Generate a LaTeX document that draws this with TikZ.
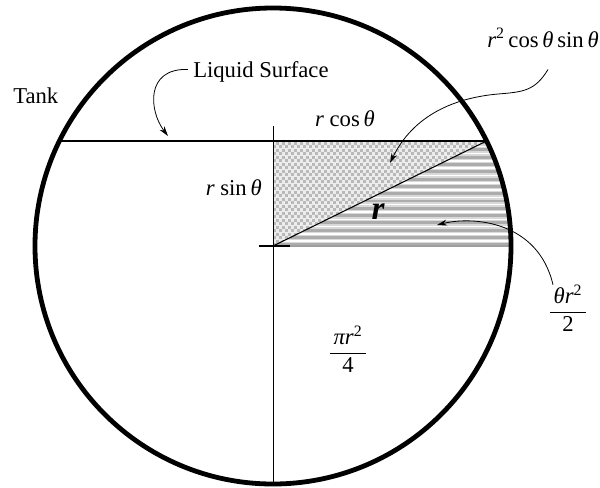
\documentclass[tikz,border=0pt]{standalone}
\usepackage{fontspec}
\setmainfont{Liberation Serif}
\usetikzlibrary{arrows.meta}

\begin{document}
\begin{tikzpicture}[x=0.75pt,y=0.75pt,
  lbl/.style={font=\fontsize{17}{20}\selectfont,inner sep=0pt},
  conn/.style={line width=0.6pt,-{Stealth[length=7.5pt,width=4.5pt]}}]
\useasboundingbox (-273,-241) rectangle (327,246);
\pgfmathsetmacro\th{asin(105/238)}
\pgfmathsetmacro\xs{238*cos(\th)}
% striped sector
\begin{scope}
\clip (0,0) -- (238,0) arc[start angle=0,end angle=\th,radius=238] -- cycle;
\fill[gray!30] (0,0) rectangle (240,110);
\foreach \k in {0,...,15}
  \draw[gray!65,line width=2.2pt] (0,{7.3*\k+1.2}) -- (240,{7.3*\k+1.2});
\foreach \k in {0,...,15}
  \draw[white,line width=1.1pt] (0,{7.3*\k+4.8}) -- (240,{7.3*\k+4.8});
\end{scope}
\draw[gray!75,line width=2pt] (17,0) -- (238,0);
% dotted triangle
\begin{scope}
\clip (0,0) -- (0,105) -- (\xs,105) -- cycle;
\fill[gray!15] (0,0) rectangle (\xs,105);
\foreach \j in {0,...,30}
  \foreach \i in {0,...,36}
    \fill[gray!55] ({6*\i+3*mod(\j,2)},{3.5*\j}) rectangle +(3,3);
\end{scope}
% lines
\draw[line width=0.6pt] (0,120) -- (0,-238);
\draw[line width=1pt] (-14,0) -- (17,0);
\draw[line width=0.8pt] (0,0) -- (\xs,105);
\draw[line width=2.2pt] (-\xs,105) -- (\xs,105);
\draw[line width=3.6pt] (0,0) circle[radius=238];
% labels
\node[lbl,anchor=base west] (tank) at (-260,143) {Tank};
\node[lbl,anchor=base west] (liq) at (-80,169) {Liquid Surface};
\node[lbl,anchor=base] (rcs) at (72,120) {\itshape r\upshape\ cos\,\itshape θ};
\node[lbl,anchor=base east] (rsn) at (-11,51) {\itshape r\upshape\ sin\,\itshape θ};
\node[lbl,font=\fontsize{25}{28}\selectfont\bfseries\itshape] (rr) at (105,34) {r};
\node[lbl,anchor=base east] (sq) at (326,199)
  {\itshape r\upshape\textsuperscript{2}\,cos\,\itshape θ\upshape\,sin\,\itshape θ};
\node[lbl] (sect) at (295,-66)
  {\begin{tabular}{@{\,}c@{\,}}\itshape θr\upshape\textsuperscript{2}\\ \hline 2\end{tabular}};
\node[lbl] (quad) at (75,-107)
  {\begin{tabular}{@{\,}c@{\,}}\itshape πr\upshape\textsuperscript{2}\\ \hline 4\end{tabular}};
% pointers
\coordinate (liqtip) at (-105,110);
\coordinate (sqtip) at (117,83);
\coordinate (secttip) at (164,21);
\draw[conn] ([shift={(-5,2)}]liq.west) .. controls (-128,178) and (-124,135) .. (liqtip);
\draw[conn] ([shift={(5,-22)}]sq.south) .. controls (262,155) and (250,154) .. (225,152)
  .. controls (180,148) and (140,130) .. (sqtip);
\draw[conn] ([shift={(-15,0)}]sect.north) .. controls (265,25) and (200,30) .. (secttip);
\end{tikzpicture}
\end{document}
